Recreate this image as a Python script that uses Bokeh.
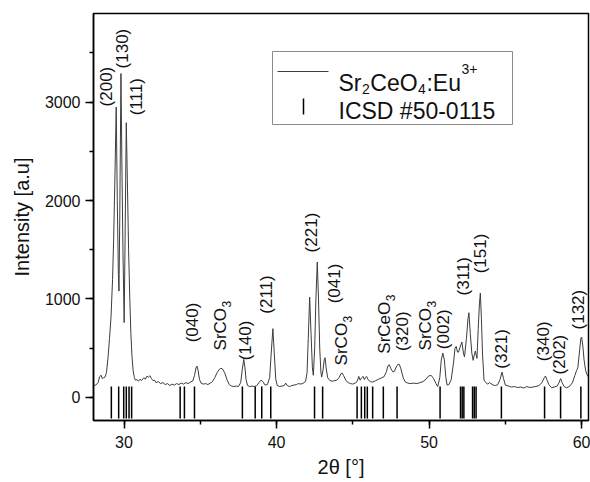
import numpy as np
from bokeh.plotting import figure
from bokeh.models import Range1d, SingleIntervalTicker
from bokeh.core.properties import value
from bokeh.embed import file_html
from bokeh.resources import INLINE

# ---- measured XRD pattern (2theta in degrees, intensity in a.u.) ----
two_theta = [
    28.00, 28.15, 28.30, 28.40, 28.50, 28.58, 28.65, 28.75, 28.85, 28.95,
    29.05, 29.15, 29.25, 29.32, 29.40, 29.49, 29.56, 29.63, 29.67, 29.72,
    29.80, 29.86, 29.93, 30.01, 30.07, 30.15, 30.22, 30.30, 30.38, 30.45,
    30.52, 30.60, 30.68, 30.75, 30.85, 30.95, 31.05, 31.15, 31.30, 31.40,
    31.50, 31.60, 31.70, 31.80, 31.90, 32.00, 32.10, 32.25, 32.40, 32.55,
    32.70, 32.85, 33.00, 33.15, 33.30, 33.45, 33.60, 33.75, 33.90, 34.05,
    34.20, 34.35, 34.50, 34.62, 34.72, 34.78, 34.85, 34.95, 35.05, 35.20,
    35.35, 35.50, 35.65, 35.80, 35.95, 36.10, 36.25, 36.35, 36.45, 36.60,
    36.75, 36.90, 37.05, 37.20, 37.35, 37.50, 37.65, 37.75, 37.85, 37.93,
    38.00, 38.10, 38.25, 38.40, 38.55, 38.70, 38.85, 38.98, 39.10, 39.25,
    39.40, 39.55, 39.65, 39.76, 39.85, 39.95, 40.05, 40.20, 40.35, 40.50,
    40.60, 40.70, 40.85, 41.00, 41.15, 41.30, 41.45, 41.60, 41.75, 41.90,
    42.00, 42.08, 42.17, 42.26, 42.35, 42.41, 42.50, 42.58, 42.67, 42.75,
    42.83, 42.91, 42.96, 43.05, 43.12, 43.18, 43.25, 43.35, 43.50, 43.65,
    43.80, 43.95, 44.10, 44.22, 44.30, 44.40, 44.55, 44.70, 44.85, 45.00,
    45.15, 45.28, 45.39, 45.48, 45.58, 45.68, 45.76, 45.84, 45.90, 46.00,
    46.15, 46.30, 46.50, 46.70, 46.90, 47.05, 47.20, 47.30, 47.39, 47.50,
    47.62, 47.72, 47.85, 47.95, 48.05, 48.15, 48.30, 48.45, 48.60, 48.80,
    49.00, 49.20, 49.40, 49.60, 49.80, 49.95, 50.13, 50.30, 50.45, 50.57,
    50.70, 50.80, 50.90, 51.00, 51.10, 51.18, 51.30, 51.45, 51.60, 51.70,
    51.78, 51.86, 51.93, 52.05, 52.15, 52.25, 52.32, 52.45, 52.55, 52.61,
    52.70, 52.80, 52.89, 52.96, 53.03, 53.10, 53.14, 53.22, 53.30, 53.36,
    53.43, 53.50, 53.60, 53.72, 53.85, 53.95, 54.05, 54.20, 54.35, 54.50,
    54.65, 54.78, 54.88, 55.00, 55.20, 55.40, 55.60, 55.80, 56.00, 56.20,
    56.40, 56.60, 56.80, 57.00, 57.20, 57.40, 57.55, 57.63, 57.72, 57.85,
    58.03, 58.20, 58.40, 58.52, 58.62, 58.72, 58.85, 59.01, 59.20, 59.40,
    59.55, 59.67, 59.75, 59.85, 59.95, 60.00, 60.08, 60.16, 60.26, 60.35,
    60.45,
]
intensity = [
    120, 125, 150, 210, 225, 190, 200, 205, 250, 400,
    600, 820, 1200, 1600, 2200, 2950, 2000, 1250, 1080, 1800,
    3290, 2400, 1500, 760, 1600, 2790, 2200, 1500, 1000, 650,
    420, 270, 200, 175, 180, 165, 185, 170, 200, 185,
    215, 205, 220, 190, 170, 175, 150, 160, 140, 150,
    130, 140, 120, 135, 125, 140, 130, 145, 135, 150,
    140, 155, 165, 220, 300, 318, 280, 180, 145, 135,
    140, 130, 145, 160, 200, 250, 285, 295, 290, 250,
    180, 130, 115, 110, 115, 110, 150, 280, 386, 300,
    180, 120, 110, 115, 110, 120, 150, 175, 160, 125,
    130, 200, 450, 698, 450, 180, 120, 110, 115, 120,
    145, 120, 110, 120, 125, 130, 140, 135, 145, 160,
    250, 600, 1020, 650, 300, 224, 500, 1000, 1375, 1000,
    500, 250, 206, 280, 380, 403, 300, 200, 170, 165,
    170, 175, 200, 240, 247, 220, 170, 150, 140, 135,
    145, 160, 213, 175, 200, 213, 180, 205, 213, 180,
    160, 155, 170, 185, 200, 210, 260, 320, 332, 290,
    260, 264, 310, 335, 335, 290, 200, 155, 145, 140,
    145, 140, 150, 160, 185, 215, 224, 190, 140, 110,
    200, 380, 450, 380, 200, 125, 130, 180, 350, 500,
    518, 460, 460, 520, 562, 450, 410, 600, 800, 860,
    650, 450, 376, 430, 470, 420, 396, 700, 950, 1060,
    800, 450, 175, 150, 135, 150, 140, 125, 120, 130,
    180, 257, 190, 125, 115, 105, 110, 100, 105, 95,
    110, 100, 105, 110, 120, 150, 200, 217, 180, 130,
    98, 105, 115, 150, 190, 150, 110, 98, 110, 150,
    220, 274, 300, 450, 600, 613, 520, 380, 274, 230,
    206,
]

# ---- reference pattern ICSD #50-0115 (line positions) ----
icsd_positions = [
    29.17, 29.65, 29.98, 30.15, 30.33, 30.50,
    33.68, 33.96, 34.62,
    37.76, 38.60, 39.03, 39.62,
    42.49, 43.02, 45.28, 45.56, 45.78, 45.95, 46.30, 47.00, 47.90,
    50.72, 52.06, 52.17, 52.28, 52.85, 52.96, 53.08,
    54.74, 57.57, 58.62, 59.95,
]
icsd_bottom = -215
icsd_top = 110

# ---- peak annotations (text, 2theta, intensity at start of text) ----
label_text = ["(200)", "(130)", "(111)", "(040)", "SrCO", "(140)", "(211)",
              "(221)", "(041)", "SrCO", "SrCeO", "(320)", "SrCO", "(002)",
              "(311)", "(151)", "(321)", "(340)", "(202)", "(132)"]
label_sub = ["", "", "", "", "3", "", "", "", "", "3", "3", "", "3", "",
             "", "", "", "", "", ""]
label_x = [28.88, 29.93, 30.85, 34.46, 36.35, 37.94, 39.37,
           42.26, 43.79, 44.25, 47.07, 48.28, 49.76, 50.96,
           52.27, 53.35, 54.74, 57.47, 58.56, 59.77]
label_y = [2956, 3342, 2865, 559, 477, 376, 850,
           1473, 955, 325, 444, 470, 477, 490,
           1036, 1260, 291, 368, 233, 690]

# ---- legend texts ----
series_name = [("Sr", "n"), ("2", "sub"), ("CeO", "n"), ("4", "sub"),
               (":Eu", "n"), ("3+", "sup")]
ref_name = "ICSD #50-0115"

FONT = "Liberation Sans"
X0, X1, Y0, Y1 = 28.0, 60.45, -235, 3900
FL, FR, FT, FB = 93, 588, 13, 420  # frame edges in pixels


def sx(px):
    return X0 + (px - FL) / (FR - FL) * (X1 - X0)


def sy(py):
    return Y1 - (py - FT) / (FB - FT) * (Y1 - Y0)


p = figure(width=590, height=482,
           x_range=Range1d(X0, X1), y_range=Range1d(Y0, Y1),
           output_backend="svg", toolbar_location=None,
           min_border_left=FL, min_border_right=590 - FR,
           min_border_top=FT, min_border_bottom=482 - FB)

p.line(two_theta, intensity, line_color="#3c3c3c", line_width=1)

p.segment(x0=icsd_positions, y0=[icsd_bottom] * len(icsd_positions),
          x1=icsd_positions, y1=[icsd_top] * len(icsd_positions),
          line_color="#000000", line_width=1.5)

p.text(x=label_x, y=label_y, text=label_text, angle=np.pi / 2,
       text_align="left", text_baseline="middle",
       text_font=value(FONT), text_font_size="17px", text_color="#111111")

# subscripts for chemical formulas
sub_idx = [i for i, s in enumerate(label_sub) if s]
base_w = {"SrCO": 42.5, "SrCeO": 52.0}
p.text(x=[label_x[i] for i in sub_idx], y=[label_y[i] for i in sub_idx],
       text=[label_sub[i] for i in sub_idx], angle=np.pi / 2,
       x_offset=6, y_offset=[-(base_w[label_text[i]] + 0.5) for i in sub_idx],
       text_align="left", text_baseline="middle",
       text_font=value(FONT), text_font_size="12px", text_color="#111111")

# ---- legend (drawn by hand so the reference glyph is a vertical tick) ----
p.quad(left=sx(272), right=sx(512), top=sy(51), bottom=sy(124),
       fill_color="white", line_color="#8a8a8a", line_width=1)
p.segment(x0=[sx(277)], y0=[sy(71)], x1=[sx(328)], y1=[sy(71)],
          line_color="#3c3c3c", line_width=1)
p.segment(x0=[sx(303)], y0=[sy(98)], x1=[sx(303)], y1=[sy(114)],
          line_color="#000000", line_width=1.5)

big_w = {"Sr": 23.0, "CeO": 47.3, ":Eu": 34.5}
small_w = {"2": 7.8, "4": 7.8, "3+": 16.0}
cur = 338.0
nx, ny, nt, smx, smy, smt = [], [], [], [], [], []
for txt, kind in series_name:
    if kind == "n":
        nx.append(sx(cur)); ny.append(sy(82)); nt.append(txt)
        cur += big_w[txt] + 0.5
    else:
        smx.append(sx(cur)); smy.append(sy(88 if kind == "sub" else 68))
        smt.append(txt)
        cur += small_w[txt] + 0.5
nx.append(sx(338)); ny.append(sy(110)); nt.append(ref_name)
p.text(x=nx, y=ny, text=nt, text_align="left", text_baseline="alphabetic",
       text_font=value(FONT), text_font_size="23px", text_color="#111111")
p.text(x=smx, y=smy, text=smt, text_align="left", text_baseline="alphabetic",
       text_font=value(FONT), text_font_size="14px", text_color="#111111")

p.xaxis.ticker = SingleIntervalTicker(interval=10, num_minor_ticks=2)
p.yaxis.ticker = SingleIntervalTicker(interval=1000, num_minor_ticks=2)
p.xaxis.axis_label = "2\u03b8 [\u00b0]"
p.yaxis.axis_label = "Intensity [a.u]"
for ax in (p.xaxis, p.yaxis):
    ax.axis_line_color = "black"
    ax.axis_line_width = 1.5
    ax.major_tick_line_color = "black"
    ax.major_tick_line_width = 1.5
    ax.minor_tick_line_color = "black"
    ax.minor_tick_line_width = 1.5
    ax.major_tick_out = 8
    ax.major_tick_in = 0
    ax.minor_tick_out = 4
    ax.minor_tick_in = 0
    ax.major_label_text_font = FONT
    ax.major_label_text_font_size = "16px"
    ax.major_label_text_color = "#111111"
    ax.axis_label_text_font = FONT
    ax.axis_label_text_font_size = "20px"
    ax.axis_label_text_font_style = "normal"
    ax.axis_label_text_color = "#111111"
p.xaxis.major_label_standoff = 7
p.xaxis.axis_label_standoff = 5
p.yaxis.major_label_standoff = 5
p.yaxis.axis_label_standoff = 9

p.xgrid.visible = False
p.ygrid.visible = False
p.outline_line_color = "black"
p.outline_line_width = 1.5
p.background_fill_color = "white"
p.border_fill_color = "white"

open("out.html", "w").write(file_html(p, INLINE))
